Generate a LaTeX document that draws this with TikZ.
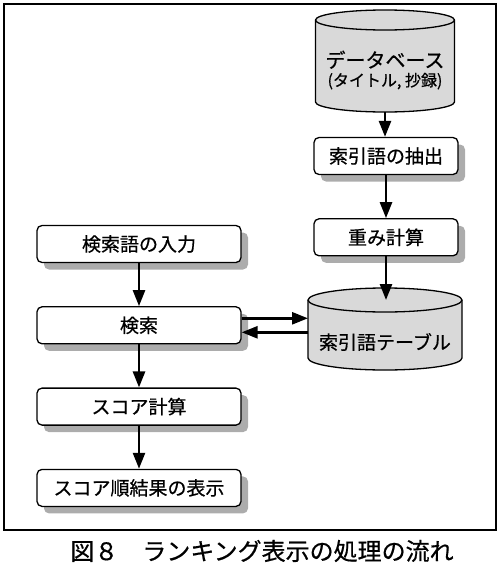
\documentclass[tikz,border=0pt]{standalone}
\usepackage{fontspec}
\newfontfamily\jp{Noto Sans CJK JP}[UprightFeatures={FakeBold=0.6}]
\usetikzlibrary{positioning,arrows.meta,shadows,backgrounds}

% cylinder behind a node: name, half width, top offset, bottom offset, ellipse radius
\newcommand\cylshape[5]{%
  \path ([yshift=#3]#1.center) coordinate (#1-t) ([yshift=-#4]#1.center) coordinate (#1-b)
    ([shift={(-#2,-#5)}]#1-t) coordinate (#1-w) ([yshift=-#5]#1-t) coordinate (#1-c);
  \begin{scope}[on background layer]
    \filldraw[cyl] ([shift={(-#2,-#5)}]#1-t) -- ([shift={(-#2,#5)}]#1-b)
      arc[start angle=180, end angle=360, x radius=#2, y radius=#5]
      -- ([shift={(#2,-#5)}]#1-t)
      arc[start angle=0, end angle=180, x radius=#2, y radius=#5] -- cycle;
    \draw[cyl] ([shift={(-#2,-#5)}]#1-t) arc[start angle=180, end angle=360, x radius=#2, y radius=#5];
  \end{scope}}

\begin{document}
\begin{tikzpicture}[
    x=1pt, y=-1pt,
    node distance=43pt,
    box/.style={draw=black, line width=1.3pt, rounded corners=5pt, fill=white, minimum height=37pt, align=center, text=black,
      font=\jp\fontsize{19}{22}\selectfont,
      drop shadow={shadow xshift=7pt, shadow yshift=-7pt, fill=gray!65, opacity=1}},
    cyl/.style={draw=black, line width=1.3pt, fill=gray!30},
    arr/.style={-{Triangle[length=16pt,width=12pt]}, draw=black, line width=2.6pt}
  ]
    \useasboundingbox (0,0) rectangle (501,570);
    \draw[line width=1.4pt] (4,4) rectangle (496,530);

    % right column
    \node[align=center] (db) at (385,70)
      {{\jp\fontsize{20}{24}\selectfont データベース}\\[3pt]{\jp\fontsize{16}{19}\selectfont (タイトル, 抄録)}};
    \cylshape{db}{69.5pt}{60pt}{42pt}{10pt}
    \node[box, minimum width=144pt] (extr) at (386,156) {索引語の抽出};
    \node[box, minimum width=144pt, below=of extr] (wght) {重み計算};
    \node[font=\jp\fontsize{19}{22}\selectfont] (tbl) at (385,342) {索引語テーブル};
    \cylshape{tbl}{77pt}{54pt}{28pt}{12pt}

    % left column
    \node[box, minimum width=204pt] (inp) at (139,244) {検索語の入力};
    \node[box, minimum width=204pt, below=of inp] (srch) {検索};
    \node[box, minimum width=204pt, below=of srch] (scor) {スコア計算};
    \node[box, minimum width=204pt, below=of scor] (rslt) {スコア順結果の表示};

    \draw[arr] (db-b) -- (db-b |- extr.north);
    \draw[arr] (extr) -- (wght);
    \draw[arr] (wght) -- (wght |- tbl-c);
    \draw[arr] (inp) -- (srch);
    \draw[arr] (srch) -- (scor);
    \draw[arr] (scor) -- (rslt);
    \draw[arr] ([yshift=7pt]srch.east) -- ([yshift=7pt]srch.east -| tbl-w);
    \draw[arr] ([yshift=-7pt]srch.east -| tbl-w) -- ([yshift=-7pt]srch.east);

    \node[font=\jp\fontsize{24}{28}\selectfont] (capt) at (262,551) {図８　ランキング表示の処理の流れ};
\end{tikzpicture}
\end{document}
